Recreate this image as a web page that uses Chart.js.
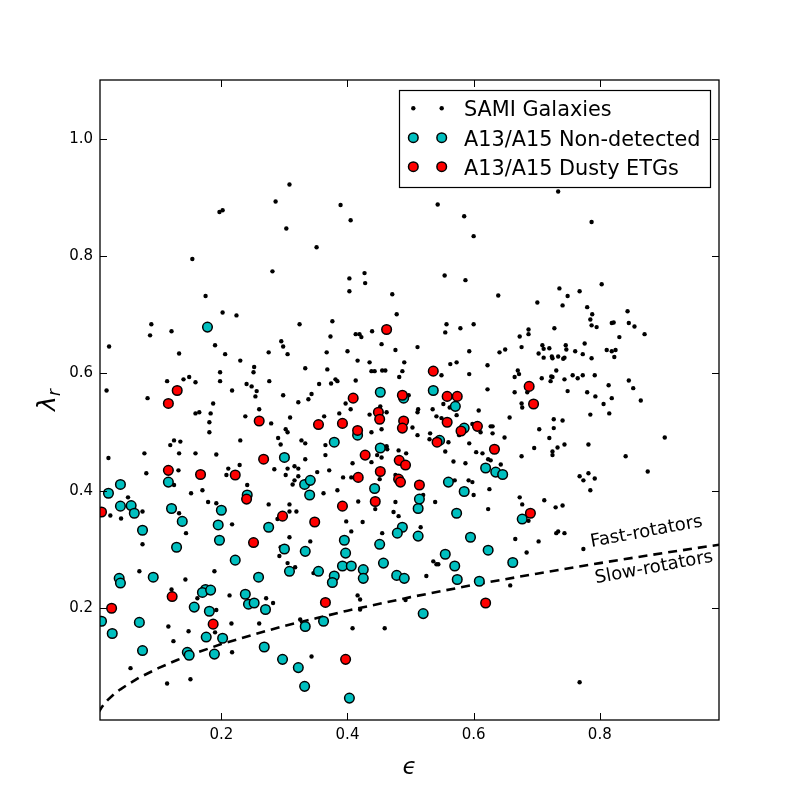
<!DOCTYPE html>
<html>
<head>
<meta charset="utf-8">
<script src="https://cdn.jsdelivr.net/npm/chart.js"></script>
<style>
  body { margin: 0; background: #fff; }
</style>
</head>
<body>
<canvas id="kinChart" width="800" height="800"></canvas>
<script>
// SAMI galaxies: ellipticity and lambda_r
const samiEps = [
  0.308,0.286,0.202,0.197,0.303,0.154,0.281,0.175,0.202,0.224,0.089,0.324,0.087,0.121,0.022,0.190,0.295,0.298,
  0.389,0.543,0.585,0.405,0.600,0.351,0.427,0.403,0.428,0.554,0.587,0.403,0.471,0.639,0.478,0.376,0.557,0.600,0.579,0.555,0.373,0.413,0.419,0.422,0.439,0.454,0.511,
  0.734,0.787,0.803,0.736,0.768,0.749,0.701,0.741,0.780,0.788,0.844,0.785,0.787,0.795,0.819,0.822,0.846,0.855,0.871,0.831,0.728,0.687,0.687,0.673,0.776,0.676,0.709,0.746,
  0.133,0.206,0.275,0.305,0.230,0.333,0.252,0.251,0.198,0.114,
  0.140,0.149,0.159,0.198,0.276,0.018,0.083,0.217,0.240,0.248,
  0.256,0.254,0.298,0.322,0.187,0.159,0.165,0.183,0.181,0.181,
  0.238,0.260,0.279,0.309,0.302,0.305,0.290,0.294,0.327,0.333,
  0.230,0.125,0.135,0.119,0.133,0.159,0.192,0.078,0.021,0.081,
  0.132,0.211,0.229,0.208,0.284,0.305,0.316,0.322,0.302,0.333,
  0.316,0.313,0.322,0.241,0.125,0.170,0.152,0.179,0.192,0.275,
  0.308,0.308,0.319,0.075,0.052,0.024,0.041,0.133,0.289,
  0.367,0.400,0.476,0.593,0.641,0.650,0.416,0.435,0.490,0.563,
  0.573,0.622,0.368,0.438,0.443,0.455,0.460,0.487,0.549,0.593,
  0.482,0.665,0.381,0.384,0.374,0.413,0.355,0.343,0.338,0.622,
  0.665,0.397,0.405,0.387,0.363,0.435,0.452,0.462,0.512,0.511,
  0.535,0.552,0.562,0.608,0.541,0.549,0.573,0.497,0.657,0.503,
  0.454,0.438,0.511,0.531,0.530,0.560,0.577,0.593,0.598,0.611,
  0.627,0.630,0.630,0.649,0.365,0.365,0.462,0.463,0.481,0.493,
  0.447,0.454,0.438,0.408,0.555,0.568,0.587,0.604,0.614,0.623,
  0.627,0.643,0.352,0.371,0.393,0.406,0.451,0.476,0.570,0.592,
  0.598,0.600,0.625,0.362,0.384,0.417,0.444,0.476,0.473,0.539,
  0.623,0.398,0.424,0.481,0.520,
  0.747,0.703,0.711,0.711,0.720,0.724,0.725,0.734,0.742,0.744,
  0.761,0.773,0.787,0.811,0.819,0.825,0.823,0.670,0.672,0.708,
  0.722,0.723,0.725,0.731,0.744,0.757,0.765,0.773,0.792,0.749,
  0.780,0.793,0.814,0.819,0.846,0.853,0.865,0.806,0.815,0.785,
  0.685,0.676,0.677,0.727,0.741,0.727,0.704,0.720,0.744,0.733,
  0.725,0.725,0.696,0.676,0.782,0.841,0.903,0.876,0.768,0.774,
  0.782,0.792,0.785,0.673,0.677,0.712,0.730,0.741,0.687,
  0.217,0.144,0.075,0.308,0.294,0.292,0.305,0.317,0.070,0.143,0.189,0.121,0.162,0.213,0.271,0.282,0.192,0.116,0.148,0.216,0.260,0.325,0.124,0.190,0.217,0.056,0.114,0.151,
  0.406,0.455,0.516,0.341,0.536,0.541,0.544,0.346,0.525,0.416,0.420,0.420,0.492,0.408,0.459,0.343,0.666,0.658,0.487,
  0.703,0.684,0.731,0.734,0.744,0.774,0.768
];
const samiLam = [
  0.922,0.893,0.878,0.875,0.847,0.795,0.774,0.732,0.704,0.699,0.684,0.684,0.665,0.672,0.646,0.648,0.655,0.646,
  0.887,0.888,0.868,0.861,0.834,0.815,0.771,0.762,0.754,0.767,0.759,0.740,0.735,0.733,0.701,0.689,0.684,0.684,0.677,0.670,0.663,0.667,0.667,0.662,0.672,0.650,0.645,
  0.910,0.858,0.752,0.745,0.740,0.732,0.721,0.716,0.713,0.701,0.706,0.692,0.682,0.679,0.686,0.687,0.686,0.680,0.667,0.662,0.677,0.675,0.667,0.663,0.651,0.645,0.648,0.648,
  0.634,0.633,0.636,0.633,0.622,0.609,0.611,0.602,0.602,0.587,
  0.590,0.594,0.585,0.587,0.587,0.571,0.558,0.571,0.582,0.578,
  0.570,0.561,0.563,0.551,0.549,0.532,0.534,0.532,0.517,0.500,
  0.527,0.539,0.515,0.525,0.505,0.500,0.490,0.479,0.486,0.481,
  0.486,0.486,0.484,0.478,0.464,0.464,0.462,0.464,0.456,0.430,
  0.435,0.438,0.444,0.427,0.437,0.438,0.442,0.438,0.427,0.454,
  0.418,0.411,0.425,0.410,0.410,0.401,0.396,0.381,0.379,0.377,
  0.377,0.365,0.365,0.365,0.389,0.358,0.353,0.362,0.352,
  0.636,0.638,0.640,0.638,0.636,0.641,0.622,0.619,0.619,0.616,
  0.619,0.614,0.607,0.604,0.604,0.605,0.605,0.604,0.597,0.599,
  0.594,0.594,0.590,0.587,0.583,0.588,0.582,0.565,0.556,0.573,
  0.568,0.549,0.539,0.532,0.527,0.530,0.544,0.534,0.539,0.534,
  0.539,0.548,0.542,0.537,0.527,0.524,0.529,0.563,0.525,0.508,
  0.505,0.500,0.495,0.498,0.488,0.483,0.495,0.481,0.514,0.500,
  0.510,0.510,0.498,0.491,0.478,0.461,0.476,0.471,0.469,0.464,
  0.461,0.457,0.449,0.447,0.467,0.450,0.447,0.466,0.464,0.454,
  0.452,0.445,0.432,0.435,0.423,0.423,0.420,0.427,0.418,0.418,
  0.415,0.393,0.403,0.396,0.401,0.382,0.369,0.381,0.364,0.381,
  0.369,0.348,0.347,0.357,0.393,
  0.641,0.634,0.642,0.627,0.643,0.629,0.626,0.629,0.625,0.627,
  0.638,0.633,0.626,0.640,0.638,0.640,0.628,0.605,0.599,0.592,
  0.587,0.595,0.594,0.605,0.590,0.597,0.592,0.597,0.597,0.570,
  0.568,0.561,0.580,0.558,0.588,0.575,0.554,0.548,0.532,0.530,
  0.568,0.549,0.542,0.522,0.520,0.507,0.505,0.490,0.479,0.474,
  0.467,0.461,0.473,0.459,0.479,0.459,0.491,0.433,0.425,0.418,
  0.430,0.421,0.401,0.389,0.377,0.384,0.372,0.375,0.349,
  0.343,0.328,0.309,0.321,0.304,0.289,0.277,0.270,0.263,0.249,0.263,0.232,0.217,0.222,0.217,0.209,0.197,0.169,0.161,0.174,0.174,0.181,0.144,0.159,0.125,0.098,0.072,0.079,
  0.331,0.328,0.338,0.314,0.280,0.275,0.275,0.260,0.255,0.222,0.215,0.198,0.214,0.166,0.166,0.118,0.318,0.239,0.343,
  0.314,0.295,0.328,0.331,0.328,0.301,0.074
];

// A13/A15 non-detected
const nondetEps = [
  0.178,0.300,0.332,0.116,0.040,0.021,0.241,0.040,0.057,0.062,0.121,0.200,0.138,
  0.452,0.536,0.489,0.571,0.416,0.379,0.452,0.585,0.546,0.619,0.635,0.646,0.341,0.340,0.443,0.560,0.585,0.514,0.512,0.573,
  0.677,
  0.075,0.195,0.275,0.129,0.197,0.222,0.300,0.333,0.308,0.038,0.040,0.092,0.259,0.238,0.243,0.252,0.270,0.175,0.170,0.183,
  0.157,0.181,0.010,0.070,0.027,0.176,0.202,0.075,0.146,0.149,0.189,0.268,0.297,0.322,0.332,0.333,
  0.487,0.479,0.512,0.595,0.623,0.395,0.397,0.451,0.457,0.555,0.570,0.574,0.609,0.662,0.392,0.406,0.425,0.425,0.354,0.379,
  0.376,0.478,0.490,0.520,0.362,0.403
];
const nondetLam = [
  0.679,0.457,0.411,0.415,0.411,0.396,0.393,0.374,0.375,0.362,0.370,0.367,0.348,
  0.568,0.571,0.558,0.544,0.495,0.483,0.473,0.507,0.486,0.439,0.432,0.428,0.418,0.393,0.404,0.415,0.399,0.386,0.370,0.362,
  0.352,
  0.333,0.342,0.338,0.304,0.316,0.282,0.301,0.297,0.263,0.251,0.243,0.253,0.253,0.224,0.207,0.209,0.198,0.232,0.227,0.231,
  0.202,0.195,0.178,0.176,0.157,0.151,0.149,0.128,0.125,0.120,0.122,0.134,0.113,0.099,0.067,0.169,
  0.338,0.328,0.323,0.321,0.299,0.316,0.294,0.309,0.277,0.292,0.272,0.249,0.246,0.278,0.272,0.272,0.266,0.251,0.263,0.255,
  0.244,0.256,0.251,0.191,0.178,0.047
];

// A13/A15 dusty ETGs
const dustyEps = [
  0.462,0.130,0.116,0.260,0.267,0.116,0.167,0.222,0.240,0.297,0.010,
  0.536,0.409,0.487,0.558,0.574,0.449,0.451,0.354,0.392,0.416,0.489,0.487,0.558,0.580,
  0.606,0.542,0.633,0.428,0.482,0.492,0.452,0.417,0.481,0.484,0.514,0.444,0.392,0.348,
  0.688,0.695,0.690,0.251,0.122,0.026,0.187,0.365,0.619,0.397
];
const dustyLam = [
  0.675,0.571,0.549,0.519,0.454,0.435,0.428,0.427,0.386,0.357,0.364,
  0.604,0.558,0.563,0.561,0.561,0.534,0.522,0.513,0.515,0.503,0.519,0.507,0.517,0.502,
  0.510,0.483,0.471,0.461,0.452,0.444,0.433,0.423,0.420,0.415,0.410,0.382,0.374,0.347,
  0.578,0.548,0.362,0.312,0.220,0.200,0.173,0.210,0.209,0.113
];

// fast / slow rotator dividing line
const sepEps = [0.005,0.01,0.015,0.02,0.03,0.04,0.05,0.07,0.1,0.13,0.16,0.2,0.25,0.3,0.35,0.4,0.5,0.6,0.7,0.8,0.9,1.0];
const sepLam = [0.022,0.031,0.038,0.044,0.054,0.062,0.069,0.082,0.098,0.112,0.124,0.139,0.155,0.170,0.183,0.196,0.219,0.240,0.259,0.277,0.294,0.310];

const xTicks = [0.2, 0.4, 0.6, 0.8];
const yTicks = [0.2, 0.4, 0.6, 0.8, 1.0];
const legendLabels = ['SAMI Galaxies', 'A13/A15 Non-detected', 'A13/A15 Dusty ETGs'];

const toPoints = (xs, ys) => xs.map((v, i) => ({ x: v, y: ys[i] }));

Chart.defaults.font.family = "'DejaVu Sans', sans-serif";
Chart.defaults.color = '#000';

const CYAN = '#00bfbf';
const RED = '#ff0000';

// frame, inward ticks, legend, axis labels, region labels
const decorPlugin = {
  id: 'decor',
  afterDraw(chart) {
    const { ctx, chartArea: a, scales: { x, y } } = chart;
    ctx.save();
    ctx.strokeStyle = '#000';
    ctx.lineWidth = 1.3;
    ctx.strokeRect(a.left, a.top, a.right - a.left, a.bottom - a.top);

    ctx.lineWidth = 1;
    ctx.beginPath();
    xTicks.forEach(v => {
      const px = Math.round(x.getPixelForValue(v)) + 0.5;
      ctx.moveTo(px, a.bottom); ctx.lineTo(px, a.bottom - 7);
      ctx.moveTo(px, a.top); ctx.lineTo(px, a.top + 7);
    });
    yTicks.forEach(v => {
      const py = Math.round(y.getPixelForValue(v)) + 0.5;
      ctx.moveTo(a.left, py); ctx.lineTo(a.left + 7, py);
      ctx.moveTo(a.right, py); ctx.lineTo(a.right - 7, py);
    });
    ctx.stroke();

    // labels along the dividing line
    ctx.fillStyle = '#000';
    ctx.font = '18px "DejaVu Sans"';
    ctx.textAlign = 'center';
    ctx.textBaseline = 'middle';
    [['Fast-rotators', 0.874, 0.330], ['Slow-rotators', 0.886, 0.269]].forEach(([t, ex, ly]) => {
      ctx.save();
      ctx.translate(x.getPixelForValue(ex), y.getPixelForValue(ly));
      ctx.rotate(-10.5 * Math.PI / 180);
      ctx.fillText(t, 0, 0);
      ctx.restore();
    });

    // legend box
    const lx = a.right - 320, ly = a.top + 10, lw = 311, lh = 97;
    ctx.fillStyle = '#fff';
    ctx.fillRect(lx, ly, lw, lh);
    ctx.lineWidth = 1.2;
    ctx.strokeRect(lx + 0.5, ly + 0.5, lw, lh);
    const rows = [18.3, 47.7, 76.7];
    const styles = [
      { r: 2.2, fill: '#000', bw: 0 },
      { r: 4.8, fill: CYAN, bw: 1.5 },
      { r: 4.8, fill: RED, bw: 1.5 }
    ];
    ctx.font = '20.8px "DejaVu Sans"';
    ctx.textAlign = 'left';
    ctx.textBaseline = 'alphabetic';
    legendLabels.forEach((lab, i) => {
      const cy = ly + rows[i];
      const s = styles[i];
      [14.3, 42.7].forEach(dx => {
        ctx.beginPath();
        ctx.arc(lx + dx, cy, s.r, 0, Math.PI * 2);
        ctx.fillStyle = s.fill;
        ctx.fill();
        if (s.bw) { ctx.lineWidth = s.bw; ctx.strokeStyle = '#000'; ctx.stroke(); }
      });
      ctx.fillStyle = '#000';
      ctx.fillText(lab, lx + 65, cy + 7.8);
    });

    // x label (epsilon)
    ctx.font = 'italic 23px "DejaVu Sans"';
    ctx.textAlign = 'center';
    ctx.fillText('\u03f5', (a.left + a.right) / 2, 774);

    // y label (lambda_r)
    ctx.translate(46, (a.top + a.bottom) / 2);
    ctx.rotate(-Math.PI / 2);
    ctx.font = 'italic 25px "DejaVu Sans"';
    const wl = ctx.measureText('\u03bb').width;
    ctx.font = 'italic 17px "DejaVu Sans"';
    const wr = ctx.measureText('r').width;
    const start = -(wl + wr) / 2;
    ctx.textAlign = 'left';
    ctx.font = 'italic 25px "DejaVu Sans"';
    ctx.fillText('\u03bb', start, 9);
    ctx.font = 'italic 17px "DejaVu Sans"';
    ctx.fillText('r', start + wl, 14);
    ctx.restore();
  }
};

const kinChart = new Chart(document.getElementById('kinChart'), {
  type: 'scatter',
  data: {
    datasets: [
      {
        label: legendLabels[2],
        data: toPoints(dustyEps, dustyLam),
        backgroundColor: RED,
        borderColor: '#000',
        borderWidth: 1.5,
        pointRadius: 4.8,
        order: 0
      },
      {
        label: legendLabels[1],
        data: toPoints(nondetEps, nondetLam),
        backgroundColor: CYAN,
        borderColor: '#000',
        borderWidth: 1.5,
        pointRadius: 4.8,
        order: 1
      },
      {
        label: 'separation',
        data: toPoints(sepEps, sepLam),
        showLine: true,
        borderColor: '#000',
        borderWidth: 2.6,
        borderDash: [9, 6],
        pointRadius: 0,
        fill: false,
        order: 2
      },
      {
        label: legendLabels[0],
        data: toPoints(samiEps, samiLam),
        backgroundColor: '#000',
        borderWidth: 0,
        pointRadius: 2.2,
        order: 3
      }
    ]
  },
  options: {
    responsive: false,
    animation: false,
    events: [],
    layout: { padding: { left: 0, right: 81, top: 80, bottom: 0 } },
    plugins: { legend: { display: false }, tooltip: { enabled: false } },
    scales: {
      x: {
        type: 'linear',
        min: 0.0076,
        max: 0.989,
        grid: { display: false, drawTicks: false },
        border: { display: false },
        afterBuildTicks: s => { s.ticks = xTicks.map(v => ({ value: v })); },
        afterFit: s => { s.height = 80; },
        ticks: { font: { size: 15 }, padding: 6, maxRotation: 0, autoSkip: false, callback: v => v.toFixed(1) }
      },
      y: {
        type: 'linear',
        min: 0.0097,
        max: 1.1,
        grid: { display: false, drawTicks: false },
        border: { display: false },
        afterBuildTicks: s => { s.ticks = yTicks.map(v => ({ value: v })); },
        afterFit: s => { s.width = 100; },
        ticks: { font: { size: 15 }, padding: 7, autoSkip: false, callback: v => v.toFixed(1) }
      }
    }
  },
  plugins: [decorPlugin]
});
</script>
</body>
</html>
